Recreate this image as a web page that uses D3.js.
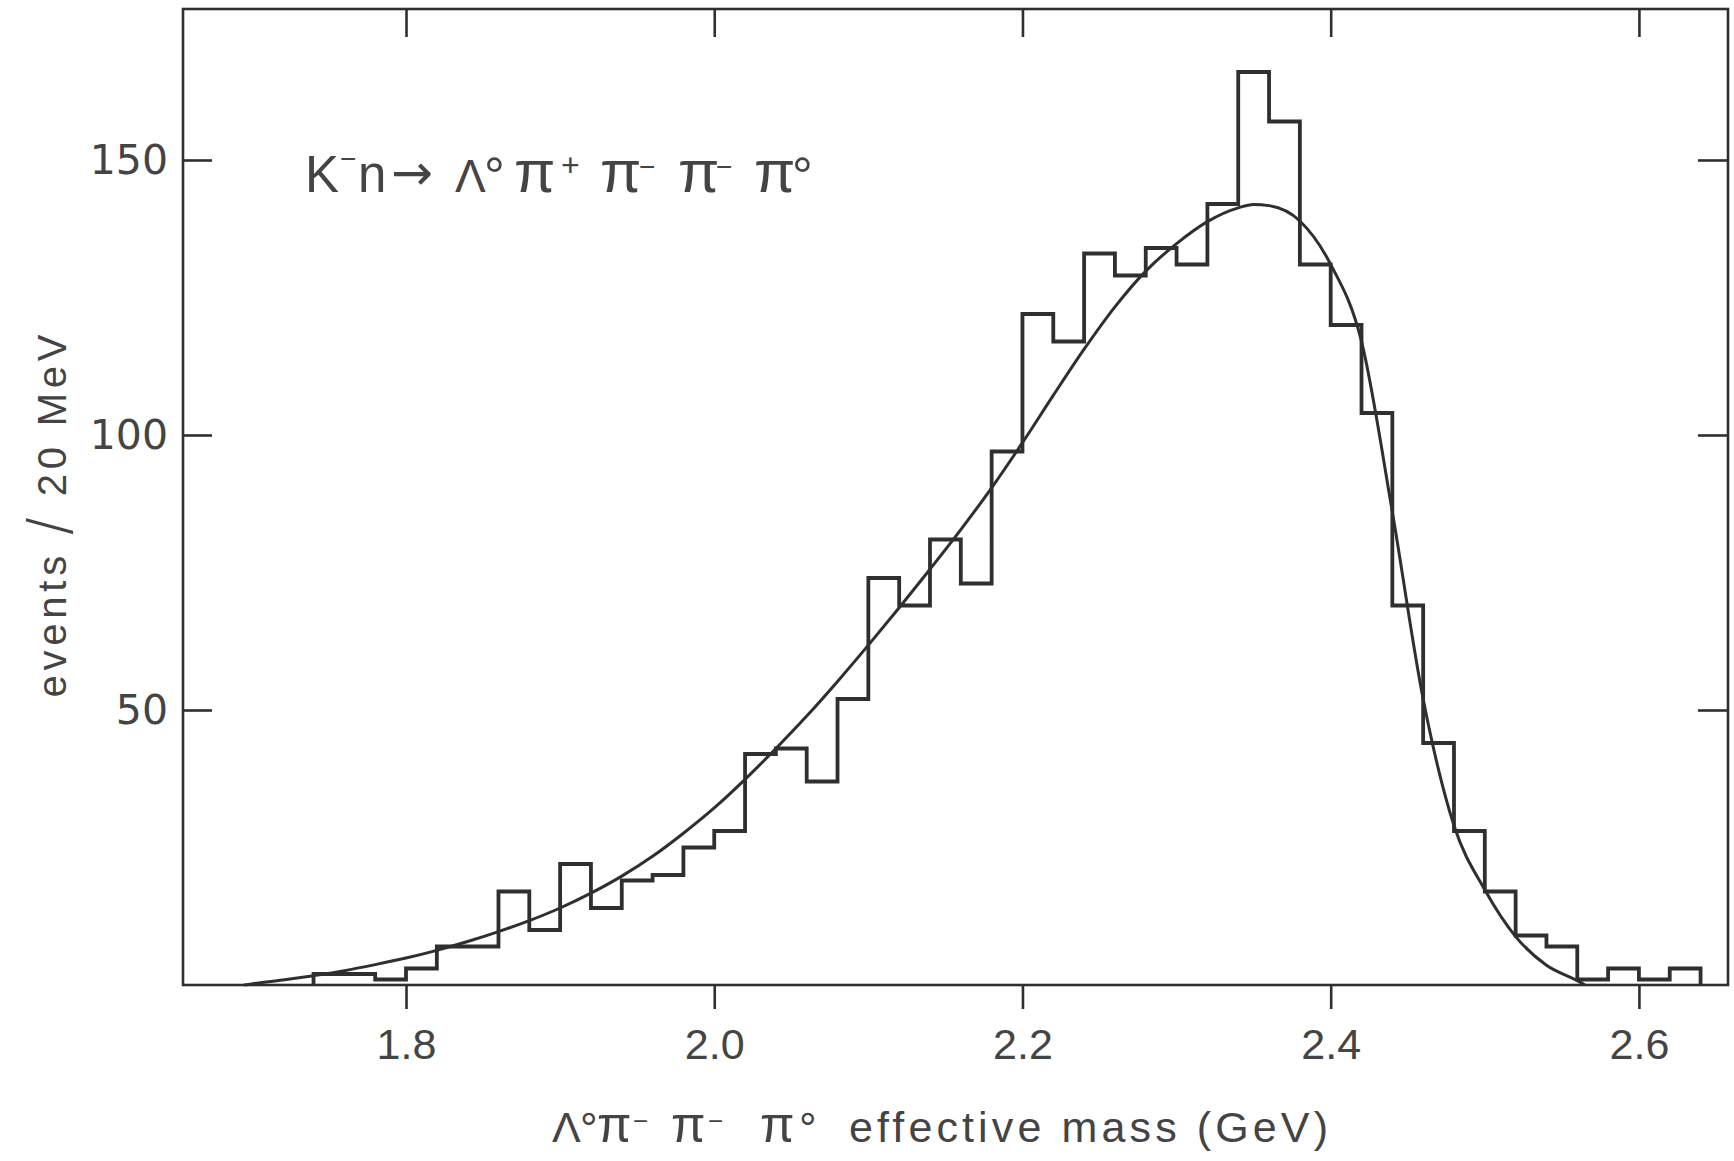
<!DOCTYPE html>
<html>
<head>
<meta charset="utf-8">
<script src="https://cdn.jsdelivr.net/npm/d3@7"></script>
<style>
  html, body { margin: 0; padding: 0; background: #ffffff; }
  svg { display: block; }
</style>
</head>
<body>
<script>
// ---------------- data ----------------
const massEdges = [1.74,1.76,1.78,1.80,1.82,1.84,1.86,1.88,1.90,1.92,1.94,1.96,1.98,2.00,2.02,2.04,2.06,2.08,2.10,2.12,2.14,2.16,2.18,2.20,2.22,2.24,2.26,2.28,2.30,2.32,2.34,2.36,2.38,2.40,2.42,2.44,2.46,2.48,2.50,2.52,2.54,2.56,2.58,2.60,2.62,2.64];
const eventsPerBin = [2,2,1,3,7,7,17,10,22,14,19,20,25,28,42,43,37,52,74,69,81,73,97,122,117,133,129,134,131,142,166,157,131,120,104,69,44,28,17,9,7,1,3,1,3];

const fitMass = [1.695,1.70,1.72,1.74,1.76,1.78,1.80,1.82,1.84,1.86,1.88,1.90,1.92,1.94,1.96,1.98,2.00,2.02,2.04,2.06,2.08,2.10,2.12,2.14,2.16,2.18,2.20,2.22,2.24,2.26,2.28,2.30,2.32,2.34,2.35,2.36,2.38,2.40,2.42,2.44,2.46,2.48,2.50,2.52,2.54,2.56,2.565];
const fitEvents = [0,0.2,0.9,1.7,2.6,3.7,4.9,6.3,7.9,9.7,11.7,14,16.7,19.8,23.4,27.6,32.2,37.4,43,48.9,55.2,61.8,68.6,75.6,82.8,90.4,98.6,107.2,115.6,123.3,129.8,134.8,138.8,141.3,141.9,141.7,138.9,131,117,86,52,29,17.3,8.8,3.6,0.8,0];

const xTicks = [1.8, 2.0, 2.2, 2.4, 2.6];
const xTickLabels = ["1.8", "2.0", "2.2", "2.4", "2.6"];
const yTicks = [50, 100, 150];
const yTickLabels = ["50", "100", "150"];
const xDomain = [1.6553, 2.6578];
const yDomain = [0, 177.45];

// ---------------- layout ----------------
const W = 1734, H = 1161;
const frame = { left: 183, top: 9, width: 1545, height: 976 };
const ink = "#2f2f2f";
const textInk = "#444444";

const svg = d3.select("body").append("svg")
  .attr("width", W).attr("height", H)
  .attr("viewBox", `0 0 ${W} ${H}`);
svg.append("rect").attr("width", W).attr("height", H).attr("fill", "#ffffff");

const g = svg.append("g").attr("transform", `translate(${frame.left},${frame.top})`);

const x = d3.scaleLinear().domain(xDomain).range([0, frame.width]);
const y = d3.scaleLinear().domain(yDomain).range([frame.height, 0]);

// frame
g.append("rect")
  .attr("x", 0).attr("y", 0)
  .attr("width", frame.width).attr("height", frame.height)
  .attr("fill", "none").attr("stroke", ink).attr("stroke-width", 2.6);

function styleAxis(sel) {
  sel.select(".domain").remove();
  sel.selectAll(".tick line").attr("stroke", ink).attr("stroke-width", 2.6);
}

// bottom axis (ticks outward, labels)
const xAxisB = g.append("g")
  .attr("transform", `translate(0,${frame.height})`)
  .call(d3.axisBottom(x).tickValues(xTicks)
    .tickFormat((d, i) => xTickLabels[i])
    .tickSizeInner(24).tickSizeOuter(0).tickPadding(19));
styleAxis(xAxisB);
xAxisB.selectAll(".tick text")
  .attr("fill", textInk)
  .style("font-family", "'Liberation Sans', Arial, sans-serif")
  .style("font-size", "43px");

// top axis (ticks inward)
const xAxisT = g.append("g")
  .call(d3.axisTop(x).tickValues(xTicks).tickFormat("")
    .tickSizeInner(-28).tickSizeOuter(0));
styleAxis(xAxisT);

// left axis (ticks inward, labels)
const yAxisL = g.append("g")
  .call(d3.axisLeft(y).tickValues(yTicks)
    .tickFormat((d, i) => yTickLabels[i])
    .tickSizeInner(-29).tickSizeOuter(0).tickPadding(15));
styleAxis(yAxisL);
yAxisL.selectAll(".tick text")
  .attr("fill", textInk)
  .style("font-family", "'DejaVu Sans', sans-serif")
  .style("font-size", "41px");

// right axis (ticks inward)
const yAxisR = g.append("g")
  .attr("transform", `translate(${frame.width},0)`)
  .call(d3.axisRight(y).tickValues(yTicks).tickFormat("")
    .tickSizeInner(-30).tickSizeOuter(0));
styleAxis(yAxisR);

// histogram outline
const histPts = [[massEdges[0], 0]];
eventsPerBin.forEach((v, i) => {
  histPts.push([massEdges[i], v]);
  histPts.push([massEdges[i + 1], v]);
});
histPts.push([massEdges[massEdges.length - 1], 0]);

g.append("path")
  .datum(histPts)
  .attr("d", d3.line().x(d => x(d[0])).y(d => y(d[1])))
  .attr("fill", "none")
  .attr("stroke", ink)
  .attr("stroke-width", 3.8)
  .attr("stroke-linejoin", "miter");

// fitted curve
const fitPts = fitMass.map((m, i) => [m, fitEvents[i]]);
g.append("path")
  .datum(fitPts)
  .attr("d", d3.line().x(d => x(d[0])).y(d => y(d[1])).curve(d3.curveMonotoneX))
  .attr("fill", "none")
  .attr("stroke", ink)
  .attr("stroke-width", 3.0);

// ---------------- texts ----------------
const fontMain = "'Liberation Sans', Arial, sans-serif";

function piece(parent, txt, xPos, opts = {}) {
  const t = parent.append("tspan").text(txt);
  if (xPos !== null) t.attr("x", xPos);
  if (opts.dy !== undefined) t.attr("dy", opts.dy);
  if (opts.size) t.style("font-size", opts.size);
  if (opts.family) t.style("font-family", opts.family);
  return t;
}

// reaction title
const title = svg.append("text")
  .attr("y", 192)
  .attr("fill", textInk)
  .style("font-family", fontMain)
  .style("font-size", "51px");
piece(title, "K", 305);
piece(title, "\u2212", 340, { dy: -24, size: "28px" });
piece(title, "n", 358, { dy: 24 });
piece(title, "\u2192", 391, { dy: -2, size: "50px", family: "'DejaVu Sans', sans-serif" });
piece(title, "\u039B", 455, { dy: 2, size: "46px" });
piece(title, "\u00B0", 484, { dy: 2, size: "52px" });
piece(title, "\u03C0", 514, { dy: -2, size: "60px" });
piece(title, "+", 561, { dy: -16, size: "32px" });
piece(title, "\u03C0", 600, { dy: 16, size: "60px" });
piece(title, "\u2212", 639, { dy: -16, size: "28px" });
piece(title, "\u03C0", 678, { dy: 16, size: "60px" });
piece(title, "\u2212", 716, { dy: -16, size: "28px" });
piece(title, "\u03C0", 754, { dy: 16, size: "60px" });
piece(title, "\u00B0", 792, { dy: 2, size: "52px" });

// x-axis title
const xt = svg.append("text")
  .attr("y", 1142)
  .attr("fill", textInk)
  .style("font-family", fontMain)
  .style("font-size", "43px");
piece(xt, "\u039B", 552);
piece(xt, "\u00B0", 580, { dy: 2, size: "44px" });
piece(xt, "\u03C0", 597, { dy: -2, size: "50px" });
piece(xt, "\u2212", 633, { dy: -12, size: "26px" });
piece(xt, "\u03C0", 671, { dy: 12, size: "50px" });
piece(xt, "\u2212", 708, { dy: -12, size: "26px" });
piece(xt, "\u03C0", 760, { dy: 12, size: "50px" });
piece(xt, "\u00B0", 799, { dy: 2, size: "44px" });

svg.append("text")
  .attr("x", 849).attr("y", 1142)
  .attr("fill", textInk)
  .attr("textLength", 479)
  .attr("lengthAdjust", "spacing")
  .style("font-family", fontMain)
  .style("font-size", "43px")
  .text("effective mass (GeV)");

// y-axis title
const yt = svg.append("text")
  .attr("transform", "translate(66,516) rotate(-90)")
  .attr("text-anchor", "middle")
  .attr("fill", textInk)
  .attr("textLength", 363)
  .attr("lengthAdjust", "spacing")
  .style("font-family", fontMain)
  .style("font-size", "40px");
yt.append("tspan").text("events ");
yt.append("tspan")
  .style("font-size", "66px")
  .attr("dy", 7)
  .attr("stroke", "#ffffff")
  .attr("stroke-width", 1.8)
  .text("/");
yt.append("tspan").attr("dy", -7).text(" 20 MeV");
</script>
</body>
</html>
